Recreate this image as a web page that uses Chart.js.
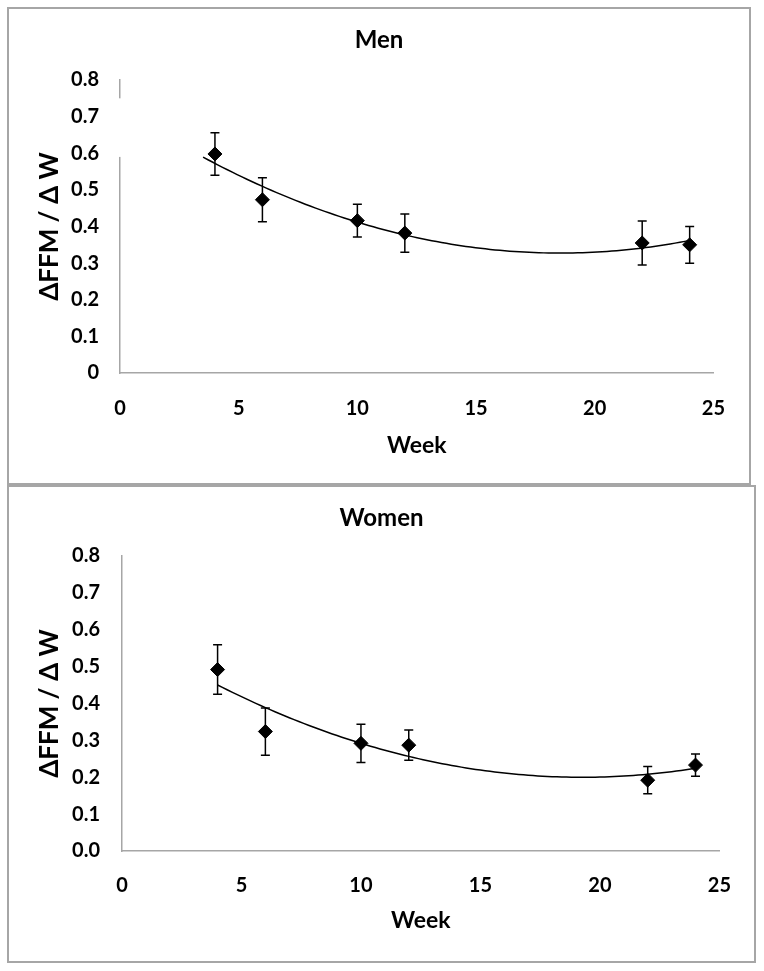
<!DOCTYPE html>
<html>
<head>
<meta charset="utf-8">
<script src="https://cdn.jsdelivr.net/npm/chart.js@4/dist/chart.umd.min.js"></script>
<style>
  body { margin: 0; background: #fff; width: 764px; height: 971px; position: relative; overflow: hidden; }
  .panel { position: absolute; border: 2px solid #a6a6a6; box-sizing: border-box; }
  .panel canvas { position: absolute; left: 0; top: 0; }
</style>
</head>
<body>
<div class="panel" style="left:7px; top:7px; width:744px; height:478px;">
  <canvas id="menChart" width="740" height="474"></canvas>
</div>
<div class="panel" style="left:7px; top:485px; width:749px; height:478px;">
  <canvas id="womenChart" width="745" height="474"></canvas>
</div>
<script>
// values
const weeks = [4, 6, 10, 12, 22, 24];
const menMean = [0.598, 0.473, 0.416, 0.382, 0.355, 0.350];
const menErr = [0.058, 0.060, 0.045, 0.052, 0.060, 0.050];
const womenMean = [0.492, 0.324, 0.292, 0.287, 0.192, 0.233];
const womenErr = [0.067, 0.064, 0.052, 0.041, 0.037, 0.030];
const xTickLabels = ['0', '5', '10', '15', '20', '25'];
const menYTickLabels = ['0', '0.1', '0.2', '0.3', '0.4', '0.5', '0.6', '0.7', '0.8'];
const womenYTickLabels = ['0.0', '0.1', '0.2', '0.3', '0.4', '0.5', '0.6', '0.7', '0.8'];

const FONT = "Lato, 'Open Sans', sans-serif";

// 2nd order polynomial trendline (least squares, like Excel)
function polyFit2(xs, ys) {
  let s = [0, 0, 0, 0, 0], t = [0, 0, 0];
  xs.forEach((x, i) => {
    for (let k = 0; k < 5; k++) s[k] += Math.pow(x, k);
    for (let k = 0; k < 3; k++) t[k] += ys[i] * Math.pow(x, k);
  });
  const m = [[s[0], s[1], s[2], t[0]], [s[1], s[2], s[3], t[1]], [s[2], s[3], s[4], t[2]]];
  for (let c = 0; c < 3; c++) {
    for (let r = c + 1; r < 3; r++) {
      const f = m[r][c] / m[c][c];
      for (let k = c; k < 4; k++) m[r][k] -= f * m[c][k];
    }
  }
  const b = [0, 0, 0];
  for (let r = 2; r >= 0; r--) {
    let v = m[r][3];
    for (let k = r + 1; k < 3; k++) v -= m[r][k] * b[k];
    b[r] = v / m[r][r];
  }
  return x => b[0] + b[1] * x + b[2] * x * x;
}

const errorBars = {
  id: 'errorBars',
  beforeDatasetsDraw(chart) {
    const { ctx, scales: { x, y } } = chart;
    chart.data.datasets.forEach(ds => {
      if (!ds.errors) return;
      ctx.save();
      ctx.strokeStyle = '#000';
      ctx.lineWidth = 1.5;
      ds.data.forEach((p, i) => {
        const px = x.getPixelForValue(p.x);
        const top = y.getPixelForValue(p.y + ds.errors[i]);
        const bot = y.getPixelForValue(p.y - ds.errors[i]);
        ctx.beginPath();
        ctx.moveTo(px, top); ctx.lineTo(px, bot);
        ctx.moveTo(px - 4.5, top); ctx.lineTo(px + 4.5, top);
        ctx.moveTo(px - 4.5, bot); ctx.lineTo(px + 4.5, bot);
        ctx.stroke();
      });
      ctx.restore();
    });
  }
};

// the men panel has a blank patch over its y axis line
const axisGap = {
  id: 'axisGap',
  afterDraw(chart, args, opts) {
    if (!opts.from) return;
    const { ctx, scales: { x, y } } = chart;
    const px = x.getPixelForValue(0);
    const y1 = y.getPixelForValue(opts.to), y2 = y.getPixelForValue(opts.from);
    ctx.save();
    ctx.fillStyle = '#fff';
    ctx.fillRect(px - 3, y1, 5, y2 - y1);
    ctx.restore();
  }
};

function makeChart(id, title, means, errs, yLabels, trendFrom, trendTo, lay) {
  const fit = polyFit2(weeks, means);
  const trend = [];
  for (let i = 0; i <= 100; i++) {
    const wx = trendFrom + (trendTo - trendFrom) * i / 100;
    trend.push({ x: wx, y: fit(wx) });
  }
  return new Chart(document.getElementById(id), {
    type: 'scatter',
    data: {
      datasets: [
        {
          data: weeks.map((w, i) => ({ x: w, y: means[i] })),
          errors: errs,
          pointStyle: 'rectRot',
          radius: 7,
          backgroundColor: '#000',
          borderColor: '#000',
          borderWidth: 1
        },
        {
          type: 'line',
          data: trend,
          borderColor: '#000',
          borderWidth: 1.5,
          pointRadius: 0,
          tension: 0,
          fill: false
        }
      ]
    },
    options: {
      responsive: false,
      animation: false,
      events: [],
      layout: { padding: 0 },
      plugins: {
        legend: { display: false },
        tooltip: { enabled: false },
        title: {
          display: true,
          text: title,
          color: '#000',
          font: { family: FONT, size: 24, weight: 'bold' },
          padding: { top: 16.6, bottom: lay.titleBottom }
        },
        axisGap: lay.gap || {}
      },
      scales: {
        x: {
          type: 'linear',
          min: 0, max: 25,
          afterFit: s => { s.height = 110; },
          afterBuildTicks: s => { s.ticks = xTickLabels.map(v => ({ value: Number(v) })); },
          ticks: {
            color: '#000',
            padding: lay.xTickPad,
            font: { family: FONT, size: 20, weight: 'bold' },
            callback: (v, i) => xTickLabels[i]
          },
          grid: { display: false, drawTicks: false },
          border: { display: true, color: '#a6a6a6', width: 1.5 },
          title: {
            display: true,
            text: 'Week',
            color: '#000',
            font: { family: FONT, size: 23, weight: 'bold' },
            padding: { top: 0, bottom: lay.weekPad }
          }
        },
        y: {
          min: 0, max: 0.8,
          afterFit: s => { s.width = lay.yWidth; },
          afterBuildTicks: s => { s.ticks = yLabels.map(v => ({ value: Number(v) })); },
          ticks: {
            color: '#000',
            padding: lay.yTickPad,
            font: { family: FONT, size: 20, weight: 'bold' },
            callback: (v, i) => yLabels[i]
          },
          grid: { display: false, drawTicks: false },
          border: { display: true, color: '#a6a6a6', width: 1.5 },
          title: {
            display: true,
            text: 'ΔFFM / Δ W',
            color: '#000',
            font: { family: FONT, size: 26, weight: 'bold' },
            padding: { top: 25.4, bottom: 0 }
          }
        },
        // empty right-hand strip so the title stays centred on the whole panel
        pad: {
          position: 'right',
          type: 'linear',
          afterFit: s => { s.width = lay.right; },
          ticks: { display: false },
          grid: { display: false, drawTicks: false },
          border: { display: false }
        }
      }
    },
    plugins: [errorBars, axisGap]
  });
}

makeChart('menChart', 'Men', menMean, menErr, menYTickLabels, 3.5, 24,
  { right: 32, titleBottom: 25.6, xTickPad: 24, weekPad: 23.2, yWidth: 111, yTickPad: 21, gap: { from: 0.59, to: 0.75 } });
makeChart('womenChart', 'Women', womenMean, womenErr, womenYTickLabels, 4, 24,
  { right: 33, titleBottom: 23.6, xTickPad: 23, weekPad: 26.2, yWidth: 113, yTickPad: 22 });
</script>
</body>
</html>
